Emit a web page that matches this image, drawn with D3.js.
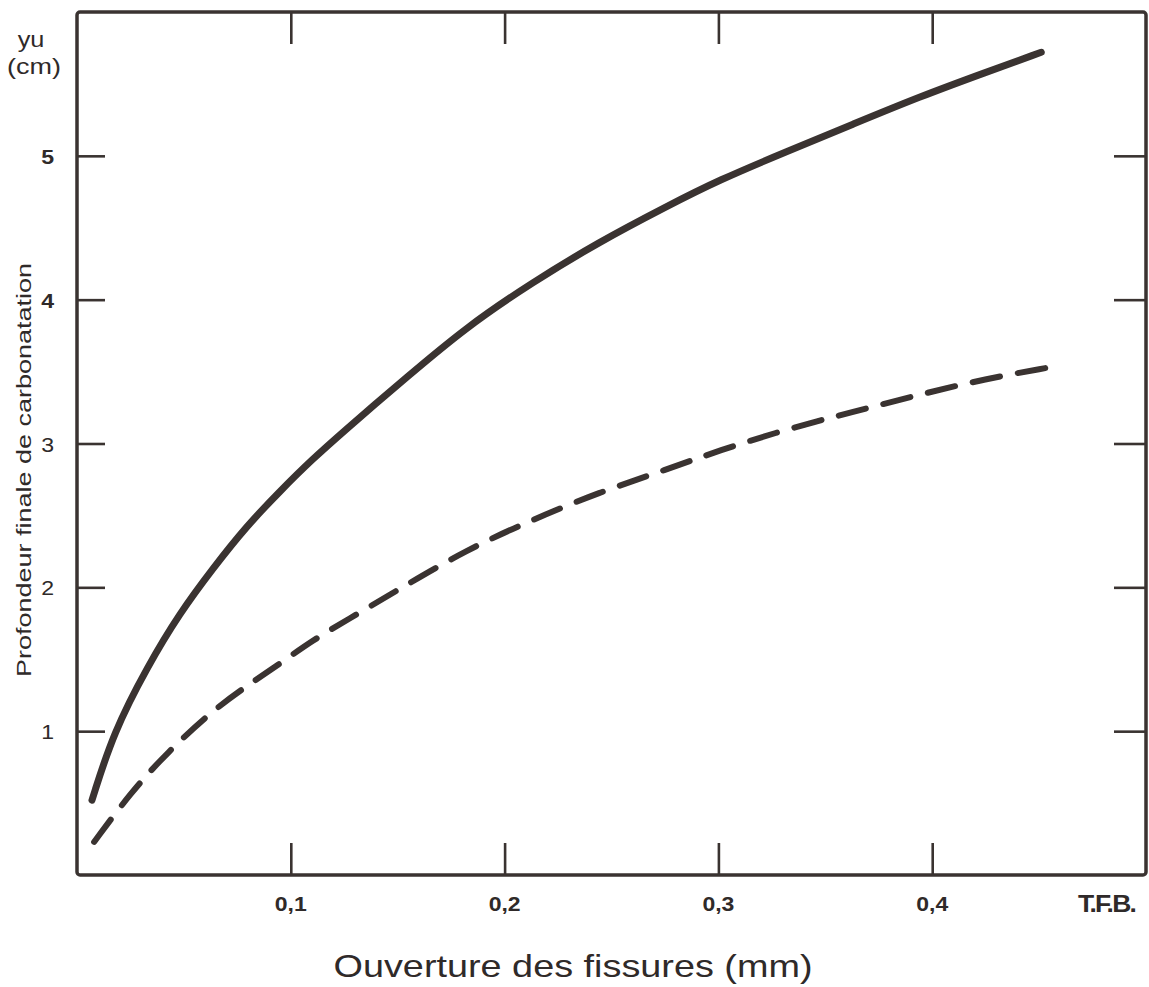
<!DOCTYPE html>
<html>
<head>
<meta charset="utf-8">
<script src="https://cdn.jsdelivr.net/npm/d3@7"></script>
<style>
	body { margin: 0; background: white; }
	text { font-family: "Liberation Sans", Arial, sans-serif; fill: #2f2a29; }
</style>
</head>
<body>
<div id="root"></div>
<script>
//crack opening (mm) and final carbonation depth (cm)
const solidX = [0.007, 0.017, 0.033, 0.048, 0.064, 0.079, 0.095, 0.110, 0.126, 0.140, 0.151, 0.182, 0.213, 0.244, 0.276, 0.300, 0.332, 0.363, 0.394, 0.425, 0.451];
const solidY = [0.52, 0.99, 1.45, 1.82, 2.14, 2.42, 2.67, 2.89, 3.10, 3.28, 3.42, 3.81, 4.12, 4.40, 4.65, 4.83, 5.03, 5.22, 5.41, 5.58, 5.72];

const dashX = [0.008, 0.025, 0.042, 0.064, 0.079, 0.095, 0.110, 0.126, 0.151, 0.182, 0.213, 0.244, 0.276, 0.300, 0.332, 0.363, 0.394, 0.425, 0.455];
const dashY = [0.23, 0.57, 0.85, 1.15, 1.31, 1.47, 1.63, 1.77, 1.99, 2.26, 2.47, 2.66, 2.82, 2.95, 3.10, 3.22, 3.34, 3.45, 3.53];

const xTicks = [0.1, 0.2, 0.3, 0.4];
const xTickLabels = ["0,1", "0,2", "0,3", "0,4"];
const yTicks = [1, 2, 3, 4, 5];
const yTickLabels = ["1", "2", "3", "4", "5"];

//dimensions of svg canvas
const width = 1149;
const height = 987;
const ink = "#3a3331";

const svg = d3.select("#root")
	.append("svg")
	.attr("width", width)
	.attr("height", height)
	.attr("style", "background-color: white;");

//plot frame edges
const frameLeft = 77, frameRight = 1146, frameTop = 12, frameBottom = 875;

const xScale = d3.scaleLinear().domain([0, 0.5]).range([frameLeft, frameRight]);
const yScale = d3.scaleLinear().domain([0, 6]).range([frameBottom, frameTop]);

//ticks on all four sides, pointing inward
const tickLen = 32;
svg.append("g")
	.attr("transform", "translate(0," + frameBottom + ")")
	.call(d3.axisTop(xScale).tickValues(xTicks).tickSize(tickLen).tickFormat(""))
	.call(g => g.select(".domain").remove());
svg.append("g")
	.attr("transform", "translate(0," + frameTop + ")")
	.call(d3.axisBottom(xScale).tickValues(xTicks).tickSize(tickLen).tickFormat(""))
	.call(g => g.select(".domain").remove());
svg.append("g")
	.attr("transform", "translate(" + frameLeft + ",0)")
	.call(d3.axisRight(yScale).tickValues(yTicks).tickSize(tickLen - 4).tickFormat(""))
	.call(g => g.select(".domain").remove());
svg.append("g")
	.attr("transform", "translate(" + frameRight + ",0)")
	.call(d3.axisLeft(yScale).tickValues(yTicks).tickSize(tickLen).tickFormat(""))
	.call(g => g.select(".domain").remove());
svg.selectAll(".tick line")
	.attr("stroke", ink)
	.attr("stroke-width", 2.6);

//frame
svg.append("rect")
	.attr("x", frameLeft)
	.attr("y", frameTop)
	.attr("width", frameRight - frameLeft)
	.attr("height", frameBottom - frameTop)
	.attr("rx", 3)
	.attr("fill", "none")
	.attr("stroke", ink)
	.attr("stroke-width", 3.5);

//tick labels, glyphs a bit wider than Liberation Sans
svg.selectAll(".xlab")
	.data(xTicks)
	.enter()
	.append("text")
	.attr("transform", d => "translate(" + xScale(d) + ",911) scale(1.15,1)")
	.attr("text-anchor", "middle")
	.style("font-size", "20px")
	.style("font-weight", "bold")
	.text((d, i) => xTickLabels[i]);

svg.selectAll(".ylab")
	.data(yTicks)
	.enter()
	.append("text")
	.attr("transform", d => "translate(54," + (yScale(d) + 8) + ") scale(1.1,1)")
	.attr("text-anchor", "end")
	.style("font-size", "21px")
	.style("font-weight", d => d >= 4 ? "bold" : "normal")
	.text((d, i) => yTickLabels[i]);

//unit label
svg.append("text")
	.attr("transform", "translate(31,47) scale(1.15,1)")
	.attr("text-anchor", "middle")
	.style("font-size", "22px")
	.text("yu");
svg.append("text")
	.attr("x", 7)
	.attr("y", 74)
	.attr("textLength", 54)
	.attr("lengthAdjust", "spacingAndGlyphs")
	.style("font-size", "22px")
	.text("(cm)");

//axis titles
svg.append("text")
	.attr("transform", "translate(31, 470) rotate(-90)")
	.attr("text-anchor", "middle")
	.attr("textLength", 414)
	.attr("lengthAdjust", "spacingAndGlyphs")
	.style("font-size", "21px")
	.text("Profondeur finale de carbonatation");

svg.append("text")
	.attr("transform", "translate(573,977) scale(1.22,1)")
	.attr("text-anchor", "middle")
	.style("font-size", "31px")
	.text("Ouverture des fissures (mm)");

svg.append("text")
	.attr("transform", "translate(1078,912) scale(1.15,1)")
	.style("font-size", "23px")
	.style("font-weight", "bold")
	.style("letter-spacing", "-1.5px")
	.text("T.F.B.");

//curves, smoothed through the read points
const line = d3.line()
	.x(d => xScale(d[0]))
	.y(d => yScale(d[1]))
	.curve(d3.curveBasis);

svg.append("path")
	.datum(solidX.map((x, i) => [x, solidY[i]]))
	.attr("d", line)
	.attr("fill", "none")
	.attr("stroke", ink)
	.attr("stroke-width", 7)
	.attr("stroke-linecap", "round");

svg.append("path")
	.datum(dashX.map((x, i) => [x, dashY[i]]))
	.attr("d", line)
	.attr("fill", "none")
	.attr("stroke", ink)
	.attr("stroke-width", 6)
	.attr("stroke-linecap", "round")
	.attr("stroke-dasharray", "28,18");
</script>
</body>
</html>
